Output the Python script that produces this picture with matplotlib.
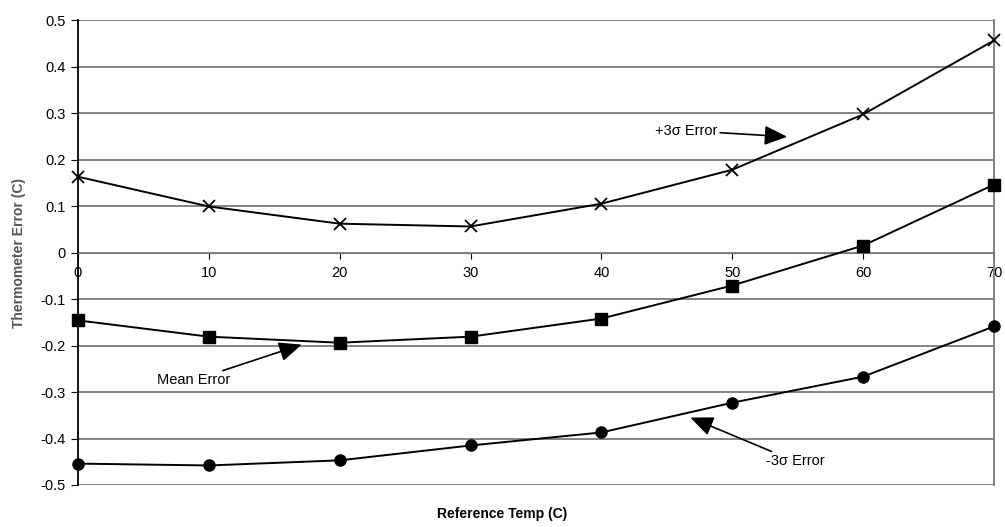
import matplotlib.pyplot as plt
import numpy as np

plt.rcParams['font.family'] = ['Liberation Sans', 'DejaVu Sans']

temps = [0, 10, 20, 30, 40, 50, 60, 70]
plus3 = [0.163, 0.099, 0.062, 0.056, 0.105, 0.178, 0.297, 0.456]
mean_err = [-0.146, -0.181, -0.194, -0.181, -0.142, -0.071, 0.015, 0.146]
minus3 = [-0.454, -0.458, -0.447, -0.415, -0.387, -0.323, -0.267, -0.159]
yticks = [0.5, 0.4, 0.3, 0.2, 0.1, 0, -0.1, -0.2, -0.3, -0.4, -0.5]
ylabels = ['0.5', '0.4', '0.3', '0.2', '0.1', '0', '-0.1', '-0.2', '-0.3', '-0.4', '-0.5']

fig = plt.figure(figsize=(10.05, 5.27), dpi=100)
ax = fig.add_axes([0.0776, 0.0797, 0.9114, 0.8823])

# horizontal grid lines
for y in yticks:
    ax.axhline(y, color='#7a7a7a', lw=1.3, zorder=1)

ax.plot(temps, plus3, color='black', lw=1.4, marker='x', ms=9, mew=1.3, zorder=3, clip_on=False)
ax.plot(temps, mean_err, color='black', lw=1.4, marker='s', ms=8, zorder=3, clip_on=False)
ax.plot(temps, minus3, color='black', lw=1.4, marker='o', ms=8, zorder=3, clip_on=False)

ax.set_xlim(0, 70)
ax.set_ylim(-0.5, 0.5)

ax.spines['bottom'].set_position(('data', 0))
ax.spines['bottom'].set_color('#7a7a7a')
ax.spines['top'].set_visible(False)
ax.spines['right'].set_color('#7a7a7a')
ax.spines['right'].set_linewidth(1.3)
ax.spines['left'].set_color('black')
ax.spines['left'].set_linewidth(1.3)

ax.set_xticks(temps)
ax.set_xticklabels([str(t) for t in temps], fontsize=10.5)
ax.tick_params(axis='x', direction='out', length=4, pad=6, colors='black')
ax.set_yticks(yticks)
ax.set_yticklabels(ylabels, fontsize=10.5)
ax.tick_params(axis='y', direction='out', length=5, pad=4)

ax.set_ylabel('Thermometer Error (C)', fontsize=10, fontweight='bold', color='#555555', labelpad=10)
fig.text(0.5, 0.012, 'Reference Temp (C)', fontsize=10, fontweight='bold', ha='center', va='bottom')

arrow = dict(arrowstyle='-|>,head_length=0.7,head_width=0.3', color='black', lw=1.2,
             mutation_scale=20, shrinkA=0, shrinkB=0)
ax.annotate('+3σ Error', xy=(54.2, 0.249), xytext=(44.1, 0.262),
            fontsize=10.5, ha='left', va='center', arrowprops=arrow)
ax.annotate('Mean Error', xy=(17.1, -0.198), xytext=(8.8, -0.275),
            fontsize=10.5, ha='center', va='center', arrowprops=arrow)
ax.annotate('-3σ Error', xy=(46.8, -0.355), xytext=(54.8, -0.449),
            fontsize=10.5, ha='center', va='center', arrowprops=arrow)

fig.savefig('out.png', dpi=100)
